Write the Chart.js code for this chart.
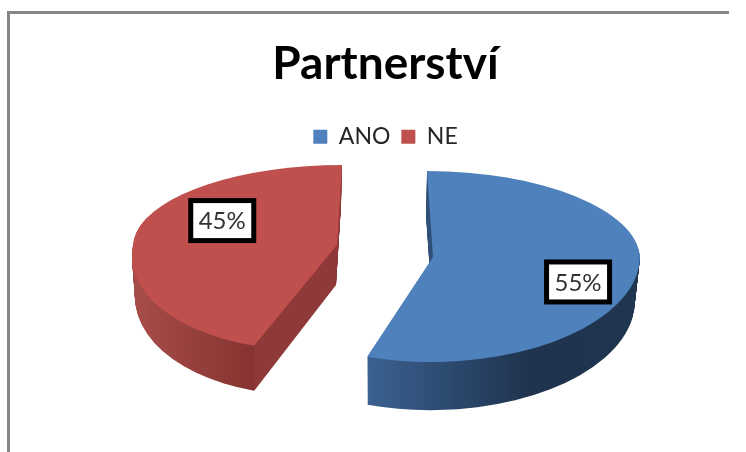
<!DOCTYPE html>
<html>
<head>
<meta charset="utf-8">
<script src="https://cdn.jsdelivr.net/npm/chart.js@4"></script>
<style>
  body { margin: 0; background: #fff; }
  #frame { position: absolute; left: 7px; top: 11px; width: 719px; height: 441px; border-top: 3px solid #868686; border-left: 3px solid #868686; }
  #plot_partnerstvi { position: absolute; left: 0; top: 0; }
</style>
</head>
<body>
<div id="frame"></div>
<canvas id="plot_partnerstvi" width="746" height="452"></canvas>
<script>
const chart_title = 'Partnerství';
const categories = ['ANO', 'NE'];
const share_values = [55, 45];
const share_labels = ['55%', '45%'];

const top_colors = ['#4F81BD', '#C0504D'];

// how each flat slice is laid into the tilted, exploded 3D view
const slice_views = [
    { ax: 433, ay: 257, rx: 207, ryUp: 86, ryDown: 105, lean: 6, leanDown: -2, depth: 45, shiftX: -1, shrink: 0.02, grow: 0.03,
      wall: [[368, '#3A6190'], [530, '#1F334E'], [640, '#1F3550']] },
    { ax: 337, ay: 245, rx: 204, ryUp: 80, ryDown: 106, lean: -5, leanDown: -21, depth: 40, shiftX: -1, shrink: 0.02, grow: 0.05,
      wall: [[132, '#A54B48'], [253, '#863431'], [255, '#8F3A38'], [340, '#8F3A38']] }
];
const label_boxes = [
    { frac: 0.74, turn: 0.17 },
    { frac: 0.64, turn: 0.34 }
];

function drawBand(ctx, el, view, sy, lean, clipTop, clipHeight) {
    const sx = view.rx / el.outerRadius;
    const sh = lean / el.outerRadius;
    ctx.save();
    ctx.beginPath();
    ctx.rect(0, clipTop, 746, clipHeight);
    ctx.clip();
    ctx.transform(sx, 0, sh, sy, view.ax - el.x * sx - el.y * sh, view.ay - el.y * sy);
    el.draw(ctx);
    ctx.restore();
}

function drawSlice(ctx, el, view) {
    const R = el.outerRadius;
    drawBand(ctx, el, view, view.ryUp / R, view.lean, 0, view.ay + 0.5);
    drawBand(ctx, el, view, view.ryDown / R, view.leanDown, view.ay - 0.5, 452);
}

const pie3d = {
    id: 'pie3d',
    beforeDatasetsDraw(chart) {
        const ctx = chart.ctx;
        chart.getDatasetMeta(0).data.forEach((el, i) => {
            const base = slice_views[i];
            const topOptions = el.options;
            for (let t = base.depth; t >= 1; t--) {
                const f = t / base.depth;
                const scaleX = 1 - base.shrink * f;
                const view = {
                    ax: base.ax + base.shiftX * f,
                    ay: base.ay + t,
                    rx: base.rx * scaleX,
                    ryUp: base.ryUp,
                    ryDown: base.ryDown * (1 + base.grow * f),
                    lean: base.lean,
                    leanDown: base.leanDown
                };
                const sx = view.rx / el.outerRadius;
                // the front corner of the wall sits low on the slice, so follow its lean
                const toLocal = x => el.x + (x - view.ax - view.leanDown * 0.95) / sx;
                const first = base.wall[0][0], last = base.wall[base.wall.length - 1][0];
                const grad = ctx.createLinearGradient(toLocal(first), 0, toLocal(last), 0);
                base.wall.forEach(s => grad.addColorStop((s[0] - first) / (last - first), s[1]));
                el.options = { backgroundColor: grad, borderWidth: 0, offset: 0, spacing: 0, borderAlign: 'center', circular: true, borderRadius: 0 };
                drawSlice(ctx, el, view);
            }
            el.options = topOptions;
            drawSlice(ctx, el, base);
        });
        return false;
    },
    afterDraw(chart) {
        const ctx = chart.ctx;
        chart.getDatasetMeta(0).data.forEach((el, i) => {
            const view = slice_views[i];
            const box = label_boxes[i];
            const mid = (el.startAngle + el.endAngle) / 2 + box.turn;
            const down = Math.sin(mid);
            const x = view.ax + Math.cos(mid) * box.frac * view.rx;
            const y = view.ay + down * box.frac * (down < 0 ? view.ryUp : view.ryDown);
            ctx.save();
            ctx.fillStyle = '#fff';
            ctx.strokeStyle = '#000';
            ctx.lineWidth = 5;
            ctx.fillRect(x - 31.5, y - 20, 63, 40);
            ctx.strokeRect(x - 31.5, y - 20, 63, 40);
            ctx.fillStyle = '#333';
            ctx.font = '24px Lato';
            ctx.textAlign = 'center';
            ctx.textBaseline = 'middle';
            ctx.fillText(share_labels[i], x, y + 1);
            ctx.restore();
        });
    }
};

const ctx1 = document.getElementById('plot_partnerstvi').getContext('2d');

const plot_partnerstvi = new Chart(ctx1, {
    type: 'pie',
    data: {
        labels: categories,
        datasets: [{
            data: share_values,
            backgroundColor: top_colors,
            borderWidth: 0,
        }],
    },
    options: {
        responsive: false,
        animation: false,
        layout: { padding: { left: 25, top: 37 } },
        plugins: {
            title: {
                display: true,
                text: chart_title,
                color: '#000',
                font: { family: 'Lato', size: 46, weight: 'bold' },
                padding: { top: 0, bottom: 22 },
            },
            legend: {
                position: 'top',
                labels: {
                    color: '#262626',
                    font: { family: 'Lato', size: 23 },
                    boxWidth: 14,
                    boxHeight: 14,
                    padding: 11,
                },
            },
            tooltip: { enabled: false },
        },
    },
    plugins: [pie3d],
});
</script>
</body>
</html>
